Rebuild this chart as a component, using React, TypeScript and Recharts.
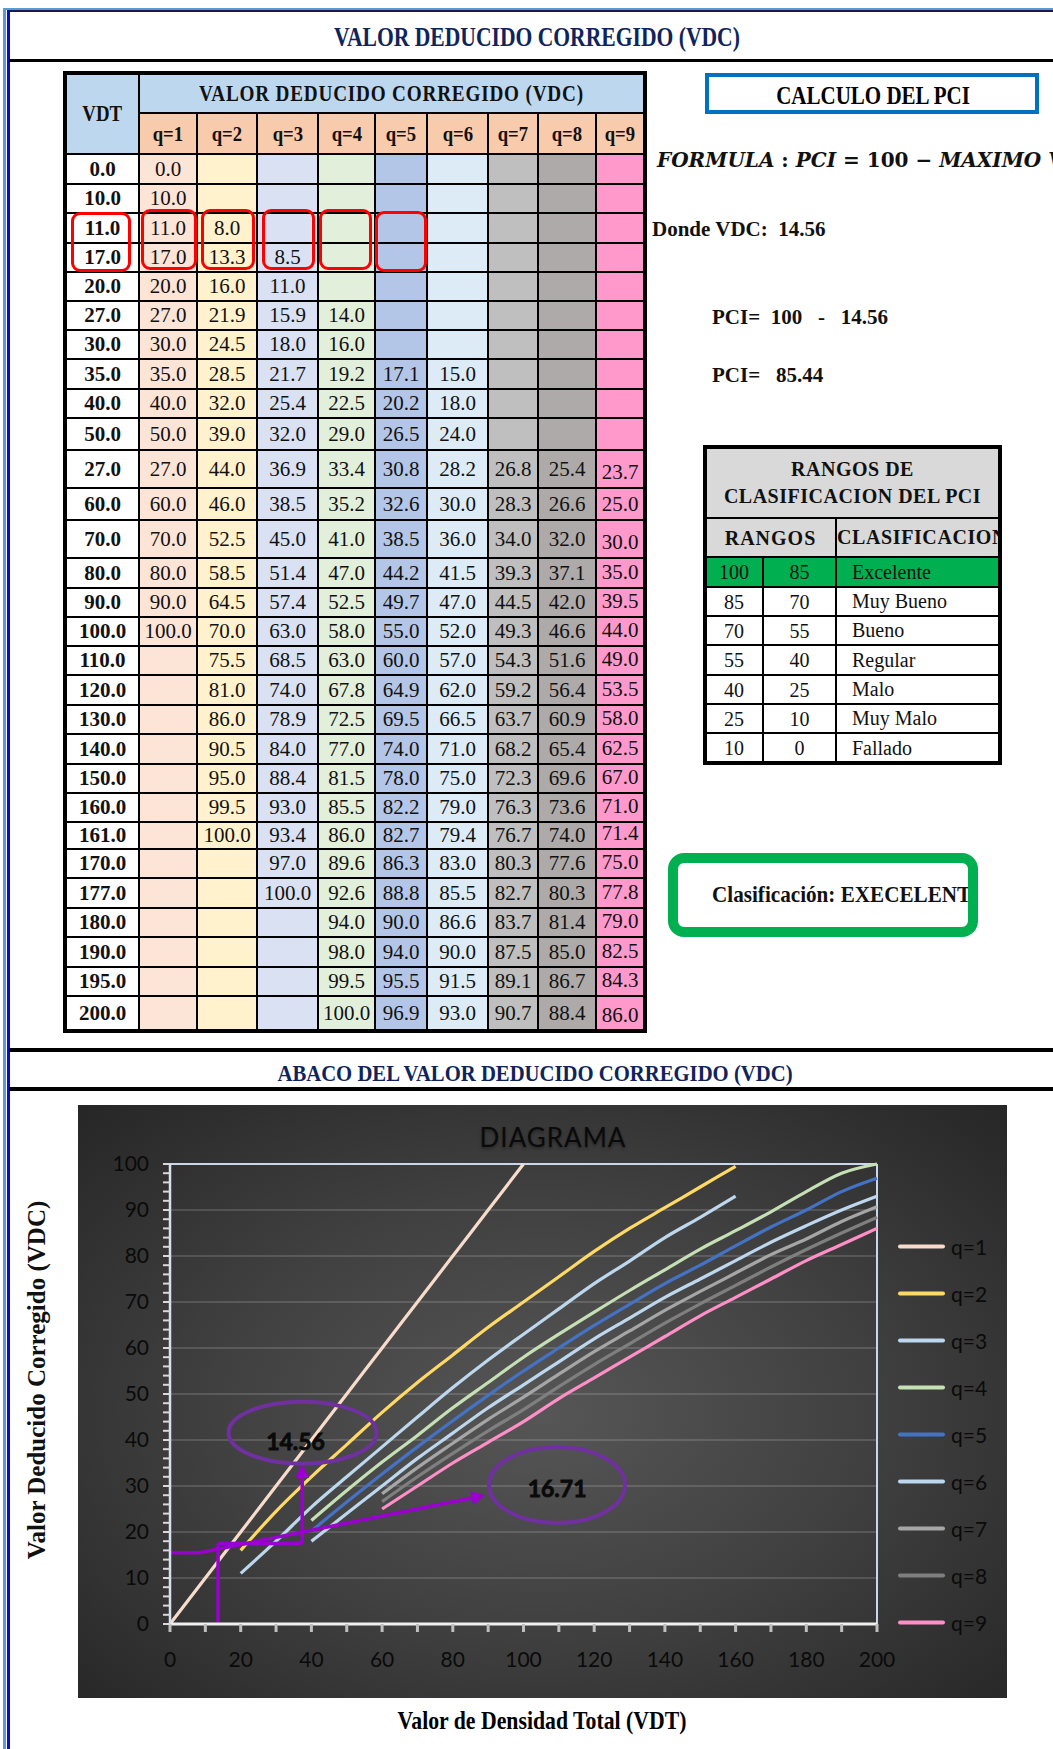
import React from "react";
import {
  CartesianGrid,
  Line,
  LineChart,
  ReferenceDot,
  ReferenceLine,
  XAxis,
  YAxis,
} from "recharts";

const SERIF = '"Liberation Serif", "Times New Roman", serif';
const SANS = 'Lato, "Open Sans", sans-serif';
const NAVY = "#10245c";
const PURPLE = "#9a00cf";
const OVAL = "#7030a0";
const INK = "#0a0a0a";

// ---------- tabla VDC (una fila por VDT) ----------
const VDT = [0, 10, 11, 17, 20, 27, 30, 35, 40, 50, 27, 60, 70, 80, 90, 100, 110, 120, 130, 140, 150, 160, 161, 170, 177, 180, 190, 195, 200];
const TQ1 = [0, 10, 11, 17, 20, 27, 30, 35, 40, 50, 27, 60, 70, 80, 90, 100, null, null, null, null, null, null, null, null, null, null, null, null, null];
const TQ2 = [null, null, 8.0, 13.3, 16.0, 21.9, 24.5, 28.5, 32.0, 39.0, 44.0, 46.0, 52.5, 58.5, 64.5, 70.0, 75.5, 81.0, 86.0, 90.5, 95.0, 99.5, 100.0, null, null, null, null, null, null];
const TQ3 = [null, null, null, 8.5, 11.0, 15.9, 18.0, 21.7, 25.4, 32.0, 36.9, 38.5, 45.0, 51.4, 57.4, 63.0, 68.5, 74.0, 78.9, 84.0, 88.4, 93.0, 93.4, 97.0, 100.0, null, null, null, null];
const TQ4 = [null, null, null, null, null, 14.0, 16.0, 19.2, 22.5, 29.0, 33.4, 35.2, 41.0, 47.0, 52.5, 58.0, 63.0, 67.8, 72.5, 77.0, 81.5, 85.5, 86.0, 89.6, 92.6, 94.0, 98.0, 99.5, 100.0];
const TQ5 = [null, null, null, null, null, null, null, 17.1, 20.2, 26.5, 30.8, 32.6, 38.5, 44.2, 49.7, 55.0, 60.0, 64.9, 69.5, 74.0, 78.0, 82.2, 82.7, 86.3, 88.8, 90.0, 94.0, 95.5, 96.9];
const TQ6 = [null, null, null, null, null, null, null, 15.0, 18.0, 24.0, 28.2, 30.0, 36.0, 41.5, 47.0, 52.0, 57.0, 62.0, 66.5, 71.0, 75.0, 79.0, 79.4, 83.0, 85.5, 86.6, 90.0, 91.5, 93.0];
const TQ7 = [null, null, null, null, null, null, null, null, null, null, 26.8, 28.3, 34.0, 39.3, 44.5, 49.3, 54.3, 59.2, 63.7, 68.2, 72.3, 76.3, 76.7, 80.3, 82.7, 83.7, 87.5, 89.1, 90.7];
const TQ8 = [null, null, null, null, null, null, null, null, null, null, 25.4, 26.6, 32.0, 37.1, 42.0, 46.6, 51.6, 56.4, 60.9, 65.4, 69.6, 73.6, 74.0, 77.6, 80.3, 81.4, 85.0, 86.7, 88.4];
const TQ9 = [null, null, null, null, null, null, null, null, null, null, 23.7, 25.0, 30.0, 35.0, 39.5, 44.0, 49.0, 53.5, 58.0, 62.5, 67.0, 71.0, 71.4, 75.0, 77.8, 79.0, 82.5, 84.3, 86.0];
const TABLE_Q = [TQ1, TQ2, TQ3, TQ4, TQ5, TQ6, TQ7, TQ8, TQ9];

// ---------- ábaco (VDT cada 10) ----------
const ABACO_VDT = [0, 10, 20, 30, 40, 50, 60, 70, 80, 90, 100, 110, 120, 130, 140, 150, 160, 170, 180, 190, 200];
const AQ1 = [0, 10, 20, 30, 40, 50, 60, 70, 80, 90, 100, null, null, null, null, null, null, null, null, null, null];
const AQ2 = [null, null, 16, 24.5, 32, 39, 46, 52.5, 58.5, 64.5, 70, 75.5, 81, 86, 90.5, 95, 99.5, null, null, null, null];
const AQ3 = [null, null, 11, 18, 25.4, 32, 38.5, 45, 51.4, 57.4, 63, 68.5, 74, 78.9, 84, 88.4, 93, null, null, null, null];
const AQ4 = [null, null, null, null, 22.5, 29, 35.2, 41, 47, 52.5, 58, 63, 67.8, 72.5, 77, 81.5, 85.5, 89.6, 94, 98, 100];
const AQ5 = [null, null, null, null, 20.2, 26.5, 32.6, 38.5, 44.2, 49.7, 55, 60, 64.9, 69.5, 74, 78, 82.2, 86.3, 90, 94, 96.9];
const AQ6 = [null, null, null, null, 18, 24, 30, 36, 41.5, 47, 52, 57, 62, 66.5, 71, 75, 79, 83, 86.6, 90, 93];
const AQ7 = [null, null, null, null, null, null, 28.3, 34, 39.3, 44.5, 49.3, 54.3, 59.2, 63.7, 68.2, 72.3, 76.3, 80.3, 83.7, 87.5, 90.7];
const AQ8 = [null, null, null, null, null, null, 26.6, 32, 37.1, 42, 46.6, 51.6, 56.4, 60.9, 65.4, 69.6, 73.6, 77.6, 81.4, 85, 88.4];
const AQ9 = [null, null, null, null, null, null, 25, 30, 35, 39.5, 44, 49, 53.5, 58, 62.5, 67, 71, 75, 79, 82.5, 86];
const ABACO_Q = [AQ1, AQ2, AQ3, AQ4, AQ5, AQ6, AQ7, AQ8, AQ9];

const X_LABELS = [0, 20, 40, 60, 80, 100, 120, 140, 160, 180, 200];
const Y_LABELS = [0, 10, 20, 30, 40, 50, 60, 70, 80, 90, 100];
const GRID_Y = [10, 20, 30, 40, 50, 60, 70, 80, 90];

// ---------- cálculo del PCI ----------
const VDC_MAX = 14.56;
const VDC_Q = 16.71;
const PCI = 100 - VDC_MAX;

const RANGO_SUP = [100, 85, 70, 55, 40, 25, 10];
const RANGO_INF = [85, 70, 55, 40, 25, 10, 0];
const CLASES = ["Excelente", "Muy Bueno", "Bueno", "Regular", "Malo", "Muy Malo", "Fallado"];
const CLASIFICACION = "EXECELENTE";

// trazos de lectura sobre el ábaco, en unidades (VDT, VDC)
const TRAZOS = [
  [[0, 15.5], [8.5, 15.5]],
  [[8.5, 15.5], [86, 27.5]],
  [[13.6, 0], [13.6, 17.5]],
  [[13.6, 17.5], [37.4, 17.5]],
  [[37.4, 17.5], [37.4, 32]],
];
const FLECHAS = [
  { x: 37.4, y: 34.8, ang: -90 },
  { x: 89.2, y: 28.0, ang: -11.8 },
];
const OVALOS = [
  { x: 37.5, y: 41.6, value: VDC_MAX, rx: 74, ry: 31, dx: -7, dy: 8 },
  { x: 109.5, y: 30.2, value: VDC_Q, rx: 68, ry: 38, dx: 0, dy: 3 },
];

const SERIES = [
  { key: "q1", name: "q=1", color: "#f8dccb" },
  { key: "q2", name: "q=2", color: "#ffd966" },
  { key: "q3", name: "q=3", color: "#bdd7ee" },
  { key: "q4", name: "q=4", color: "#c5e0b4" },
  { key: "q5", name: "q=5", color: "#4472c4" },
  { key: "q6", name: "q=6", color: "#bdd7ee" },
  { key: "q7", name: "q=7", color: "#a6a6a6" },
  { key: "q8", name: "q=8", color: "#7f7f7f" },
  { key: "q9", name: "q=9", color: "#ff8fc7" },
];

const abacoRows = ABACO_VDT.map((vdt, i) => {
  const row: Record<string, number | null> = { vdt };
  SERIES.forEach((s, k) => {
    row[s.key] = ABACO_Q[k][i];
  });
  return row;
});

// ---------- layout de la tabla ----------
const COL_X = [66, 139, 197, 257, 318, 375, 427, 488, 538, 596, 644];
const HEAD_Y = [73, 113, 154];
const ROW_H = [30, 29, 30, 29, 29, 29, 29, 30, 29, 32, 38, 32, 38, 30, 29, 29, 29, 30, 29, 30, 29, 29, 27, 29, 30, 29, 30, 29, 35];
const COL_FILL = ["#ffffff", "#fce4d6", "#fff2cc", "#d9e1f2", "#e2efda", "#b4c6e7", "#ddebf7", "#bfbfbf", "#aeaaaa", "#ff99cc"];
const RED_BOXES = [
  [71, 212, 60, 60],
  [141, 209, 56, 61],
  [201, 209, 54, 61],
  [262, 209, 53, 61],
  [319, 209, 53, 61],
  [375, 211, 52, 61],
];

const ROW_Y = ROW_H.reduce<number[]>((acc, h) => [...acc, acc[acc.length - 1] + h], [HEAD_Y[2]]);

type TextProps = {
  x: number;
  y: number;
  size: number;
  sx?: number;
  color?: string;
  weight?: number;
  children: React.ReactNode;
};

function Squeezed({ x, y, size, sx = 1, color = "#000", weight = 700, children }: TextProps) {
  return (
    <div
      style={{
        position: "absolute",
        left: x,
        top: y,
        transform: `translate(-50%, -50%) scaleX(${sx})`,
        whiteSpace: "nowrap",
        fontFamily: SERIF,
        fontWeight: weight,
        fontSize: size,
        lineHeight: 1,
        color,
      }}
    >
      {children}
    </div>
  );
}

function LeftText({ x, y, size, children }: TextProps) {
  return (
    <div
      style={{
        position: "absolute",
        left: x,
        top: y,
        transform: "translateY(-50%)",
        whiteSpace: "pre",
        fontFamily: SERIF,
        fontWeight: 700,
        fontSize: size,
        lineHeight: 1,
        color: "#111",
      }}
    >
      {children}
    </div>
  );
}

function Cell({ x0, x1, y0, y1, bg, children, bottom, bold, size = 21 }: any) {
  return (
    <div
      style={{
        position: "absolute",
        left: x0,
        top: y0,
        width: x1 - x0,
        height: y1 - y0,
        boxSizing: "border-box",
        border: "1px solid #000",
        background: bg,
        display: "flex",
        justifyContent: "center",
        alignItems: bottom ? "flex-end" : "center",
        paddingBottom: bottom ? 4 : 0,
        fontFamily: SERIF,
        fontSize: size,
        fontWeight: bold ? 700 : 400,
        lineHeight: 1,
        color: "#111",
        whiteSpace: "nowrap",
        overflow: "hidden",
      }}
    >
      {children}
    </div>
  );
}

function VdcTable() {
  return (
    <>
      <Cell x0={COL_X[0]} x1={COL_X[1]} y0={HEAD_Y[0]} y1={HEAD_Y[2]} bg="#bdd7ee">
        <span style={{ fontWeight: 700, fontSize: 23, display: "inline-block", transform: "scaleX(0.82)" }}>VDT</span>
      </Cell>
      <Cell x0={COL_X[1]} x1={COL_X[10]} y0={HEAD_Y[0]} y1={HEAD_Y[1]} bg="#bdd7ee">
        <span style={{ fontWeight: 700, fontSize: 24, display: "inline-block", transform: "scaleX(0.8)", letterSpacing: 1 }}>
          VALOR DEDUCIDO CORREGIDO (VDC)
        </span>
      </Cell>
      {SERIES.map((s, k) => (
        <Cell key={s.key} x0={COL_X[k + 1]} x1={COL_X[k + 2]} y0={HEAD_Y[1]} y1={HEAD_Y[2]} bg="#f8cbad">
          <span style={{ fontWeight: 700, fontSize: 22, display: "inline-block", transform: "scaleX(0.85)" }}>{s.name}</span>
        </Cell>
      ))}
      {VDT.map((v, r) => (
        <React.Fragment key={r}>
          <Cell x0={COL_X[0]} x1={COL_X[1]} y0={ROW_Y[r]} y1={ROW_Y[r + 1]} bg={COL_FILL[0]} bold>
            {v.toFixed(1)}
          </Cell>
          {TABLE_Q.map((col, k) => (
            <Cell
              key={k}
              x0={COL_X[k + 1]}
              x1={COL_X[k + 2]}
              y0={ROW_Y[r]}
              y1={ROW_Y[r + 1]}
              bg={COL_FILL[k + 1]}
              bottom={k === 8}
            >
              {col[r] == null ? "" : (col[r] as number).toFixed(1)}
            </Cell>
          ))}
        </React.Fragment>
      ))}
      <div
        style={{
          position: "absolute",
          left: 63,
          top: 71,
          width: 584,
          height: 962,
          boxSizing: "border-box",
          border: "4px solid #000",
        }}
      />
      {RED_BOXES.map(([x, y, w, h], i) => (
        <div
          key={i}
          style={{
            position: "absolute",
            left: x,
            top: y,
            width: w,
            height: h,
            boxSizing: "border-box",
            border: "3px solid #ff0000",
            borderRadius: 9,
          }}
        />
      ))}
    </>
  );
}

const RG_X = [705, 763, 836, 1000];
const RG_Y = [447, 518, 557, 587, 616, 645, 675, 704, 733, 763];

function RangosTable() {
  return (
    <>
      <Cell x0={RG_X[0]} x1={RG_X[3]} y0={RG_Y[0]} y1={RG_Y[1]} bg="#d9d9d9" size={20}>
        <div style={{ textAlign: "center", fontWeight: 700, lineHeight: "27px", letterSpacing: 0.5 }}>
          RANGOS DE
          <br />
          CLASIFICACION DEL PCI
        </div>
      </Cell>
      <Cell x0={RG_X[0]} x1={RG_X[2]} y0={RG_Y[1]} y1={RG_Y[2]} bg="#d9d9d9" size={20} bold>
        <span style={{ letterSpacing: 1 }}>RANGOS</span>
      </Cell>
      <div
        style={{
          position: "absolute",
          left: RG_X[2],
          top: RG_Y[1],
          width: RG_X[3] - RG_X[2],
          height: RG_Y[2] - RG_Y[1],
          boxSizing: "border-box",
          border: "1px solid #000",
          background: "#d9d9d9",
          display: "flex",
          alignItems: "center",
          overflow: "hidden",
          whiteSpace: "nowrap",
          fontFamily: SERIF,
          fontWeight: 700,
          fontSize: 20,
          letterSpacing: 0.6,
          color: "#111",
        }}
      >
        CLASIFICACION
      </div>
      {CLASES.map((c, i) => {
        const bg = i === 0 ? "#00b050" : "#ffffff";
        return (
          <React.Fragment key={c}>
            <Cell x0={RG_X[0]} x1={RG_X[1]} y0={RG_Y[i + 2]} y1={RG_Y[i + 3]} bg={bg} size={20}>
              {RANGO_SUP[i]}
            </Cell>
            <Cell x0={RG_X[1]} x1={RG_X[2]} y0={RG_Y[i + 2]} y1={RG_Y[i + 3]} bg={bg} size={20}>
              {RANGO_INF[i]}
            </Cell>
            <div
              style={{
                position: "absolute",
                left: RG_X[2],
                top: RG_Y[i + 2],
                width: RG_X[3] - RG_X[2],
                height: RG_Y[i + 3] - RG_Y[i + 2],
                boxSizing: "border-box",
                border: "1px solid #000",
                background: bg,
                display: "flex",
                alignItems: "center",
                paddingLeft: 15,
                fontFamily: SERIF,
                fontSize: 20,
                color: "#111",
              }}
            >
              {c}
            </div>
          </React.Fragment>
        );
      })}
      <div
        style={{
          position: "absolute",
          left: RG_X[0] - 2,
          top: RG_Y[0] - 2,
          width: RG_X[3] - RG_X[0] + 4,
          height: RG_Y[9] - RG_Y[0] + 4,
          boxSizing: "border-box",
          border: "4px solid #000",
        }}
      />
    </>
  );
}

function Arrow(props: any) {
  const { cx, cy, ang } = props;
  return <polygon points="0,0 -14,-7 -14,7" fill={PURPLE} transform={`translate(${cx},${cy}) rotate(${ang})`} />;
}

function Oval(props: any) {
  const { cx, cy, rx, ry, dx, dy, value } = props;
  return (
    <g>
      <ellipse cx={cx} cy={cy} rx={rx} ry={ry} fill="none" stroke={OVAL} strokeWidth={4} />
      <text
        x={cx + dx}
        y={cy + dy}
        textAnchor="middle"
        dominantBaseline="central"
        fontFamily={SANS}
        fontWeight={700}
        fontSize={23}
        fill={INK}
        stroke={INK}
        strokeWidth={0.8}
      >
        {value.toFixed(2)}
      </text>
    </g>
  );
}

function Abaco() {
  return (
    <div
      style={{
        position: "absolute",
        left: 78,
        top: 1105,
        width: 929,
        height: 593,
        background: "radial-gradient(ellipse at 50% 52%, #565656 0%, #404040 50%, #262626 100%)",
      }}
    >
      <div
        style={{
          position: "absolute",
          left: 475,
          top: 32,
          transform: "translate(-50%, -50%)",
          fontFamily: SANS,
          fontSize: 26,
          letterSpacing: 1,
          color: INK,
          textShadow: "0 2px 3px rgba(0,0,0,0.35)",
          whiteSpace: "nowrap",
          lineHeight: 1,
        }}
      >
        DIAGRAMA
      </div>
      <LineChart width={929} height={593} data={abacoRows} margin={{ top: 59, right: 130, left: 32, bottom: 30 }}>
        <CartesianGrid
          vertical={false}
          horizontalValues={GRID_Y}
          stroke="rgba(255,255,255,0.14)"
          strokeWidth={2}
        />
        <XAxis
          dataKey="vdt"
          type="number"
          domain={[0, 200]}
          ticks={ABACO_VDT}
          interval={0}
          height={44}
          tickSize={8}
          tickMargin={20}
          axisLine={{ stroke: "#f0f0f0", strokeWidth: 3 }}
          tickLine={{ stroke: "#bfbfbf", strokeWidth: 3 }}
          tick={{ fill: INK, fontSize: 21, fontFamily: SANS }}
          tickFormatter={(v) => (X_LABELS.includes(v) ? String(v) : "")}
        />
        <YAxis
          type="number"
          domain={[0, 100]}
          ticks={Array.from({ length: 51 }, (_, i) => i * 2)}
          interval={0}
          width={60}
          tickSize={7}
          tickMargin={14}
          axisLine={{ stroke: "#d6e0f0", strokeWidth: 2.5 }}
          tickLine={{ stroke: "#d9d9d9", strokeWidth: 2 }}
          tick={{ fill: INK, fontSize: 21, fontFamily: SANS }}
          tickFormatter={(v) => (Y_LABELS.includes(v) ? String(v) : "")}
        />
        <ReferenceLine y={100} stroke="#c9d7ec" strokeWidth={2} />
        <ReferenceLine x={200} stroke="#c9d7ec" strokeWidth={2} />
        {SERIES.map((s) => (
          <Line
            key={s.key}
            type="monotone"
            dataKey={s.key}
            name={s.name}
            stroke={s.color}
            strokeWidth={3.2}
            dot={false}
            activeDot={false}
            isAnimationActive={false}
          />
        ))}
        {TRAZOS.map(([a, b], i) => (
          <ReferenceLine
            key={`t${i}`}
            segment={[
              { x: a[0], y: a[1] },
              { x: b[0], y: b[1] },
            ]}
            stroke={PURPLE}
            strokeWidth={3.5}
          />
        ))}
        {FLECHAS.map((f, i) => (
          <ReferenceDot key={`f${i}`} x={f.x} y={f.y} r={1} shape={(p: any) => <Arrow {...p} ang={f.ang} />} />
        ))}
        {OVALOS.map((o, i) => (
          <ReferenceDot key={`o${i}`} x={o.x} y={o.y} r={1} shape={(p: any) => <Oval {...p} {...o} cx={p.cx} cy={p.cy} />} />
        ))}
      </LineChart>
      {SERIES.map((s, i) => (
        <div
          key={s.key}
          style={{
            position: "absolute",
            left: 820,
            top: 141 + 47 * i,
            transform: "translateY(-50%)",
            display: "flex",
            alignItems: "center",
          }}
        >
          <div style={{ width: 47, height: 4, background: s.color, borderRadius: 2 }} />
          <span style={{ marginLeft: 6, fontFamily: SANS, fontSize: 21, color: INK, lineHeight: 1 }}>{s.name}</span>
        </div>
      ))}
    </div>
  );
}

export default function App() {
  return (
    <div
      style={{
        position: "absolute",
        left: 0,
        top: 0,
        width: 1053,
        height: 1749,
        overflow: "hidden",
        background: "#fff",
        fontFamily: SERIF,
      }}
    >
      {/* marco */}
      <div style={{ position: "absolute", left: 3, top: 8, width: 1050, height: 2, background: "#5b9bd5" }} />
      <div style={{ position: "absolute", left: 7, top: 10, width: 1046, height: 2, background: "#1a1a4a" }} />
      <div style={{ position: "absolute", left: 3, top: 8, width: 3, height: 1741, background: "#5b9bd5" }} />
      <div style={{ position: "absolute", left: 7, top: 10, width: 3, height: 1739, background: "#0a0ad0" }} />
      <div style={{ position: "absolute", left: 9, top: 59, width: 1044, height: 3, background: "#000" }} />
      <div style={{ position: "absolute", left: 9, top: 1048, width: 1044, height: 4, background: "#000" }} />
      <div style={{ position: "absolute", left: 9, top: 1087, width: 1044, height: 4, background: "#000" }} />

      <Squeezed x={537} y={37} size={27} sx={0.8} color={NAVY}>
        VALOR DEDUCIDO CORREGIDO (VDC)
      </Squeezed>

      <VdcTable />

      {/* cálculo del PCI */}
      <div
        style={{
          position: "absolute",
          left: 705,
          top: 73,
          width: 334,
          height: 41,
          boxSizing: "border-box",
          border: "4px solid #0070c0",
        }}
      />
      <Squeezed x={873} y={95} size={25} sx={0.84}>
        CALCULO DEL PCI
      </Squeezed>
      <div
        style={{
          position: "absolute",
          left: 657,
          top: 160,
          transform: "translateY(-50%)",
          whiteSpace: "nowrap",
          fontFamily: '"DejaVu Serif", serif',
          fontWeight: 700,
          fontSize: 20,
          lineHeight: 1,
          color: "#111",
        }}
      >
        <i>FORMULA</i> : <i>PCI</i> = 100 − <i>MAXIMO VDC</i>
      </div>
      <LeftText x={652} y={229} size={21}>
        {`Donde VDC:  ${VDC_MAX.toFixed(2)}`}
      </LeftText>
      <LeftText x={712} y={317} size={21}>
        {`PCI=  100   -   ${VDC_MAX.toFixed(2)}`}
      </LeftText>
      <LeftText x={712} y={375} size={21}>
        {`PCI=   ${PCI.toFixed(2)}`}
      </LeftText>

      <RangosTable />

      <div
        style={{
          position: "absolute",
          left: 668,
          top: 853,
          width: 310,
          height: 84,
          boxSizing: "border-box",
          border: "10px solid #00b050",
          borderRadius: 16,
          overflow: "hidden",
          display: "flex",
          alignItems: "center",
          paddingLeft: 34,
          whiteSpace: "nowrap",
          fontFamily: SERIF,
          fontWeight: 700,
          fontSize: 23,
          color: "#111",
        }}
      >
        <span style={{ display: "inline-block", transform: "scaleX(0.92)", transformOrigin: "left center" }}>
          Clasificación: {CLASIFICACION}
        </span>
      </div>

      <Squeezed x={535} y={1073} size={23} sx={0.9} color={NAVY}>
        ABACO DEL VALOR DEDUCIDO CORREGIDO (VDC)
      </Squeezed>

      <Abaco />

      <div
        style={{
          position: "absolute",
          left: 36,
          top: 1380,
          transform: "translate(-50%, -50%) rotate(-90deg)",
          whiteSpace: "nowrap",
          fontFamily: SERIF,
          fontWeight: 700,
          fontSize: 25,
          lineHeight: 1,
          color: "#111",
        }}
      >
        Valor Deducido Corregido (VDC)
      </div>
      <Squeezed x={542} y={1720} size={25} sx={0.87}>
        Valor de Densidad Total (VDT)
      </Squeezed>
    </div>
  );
}
